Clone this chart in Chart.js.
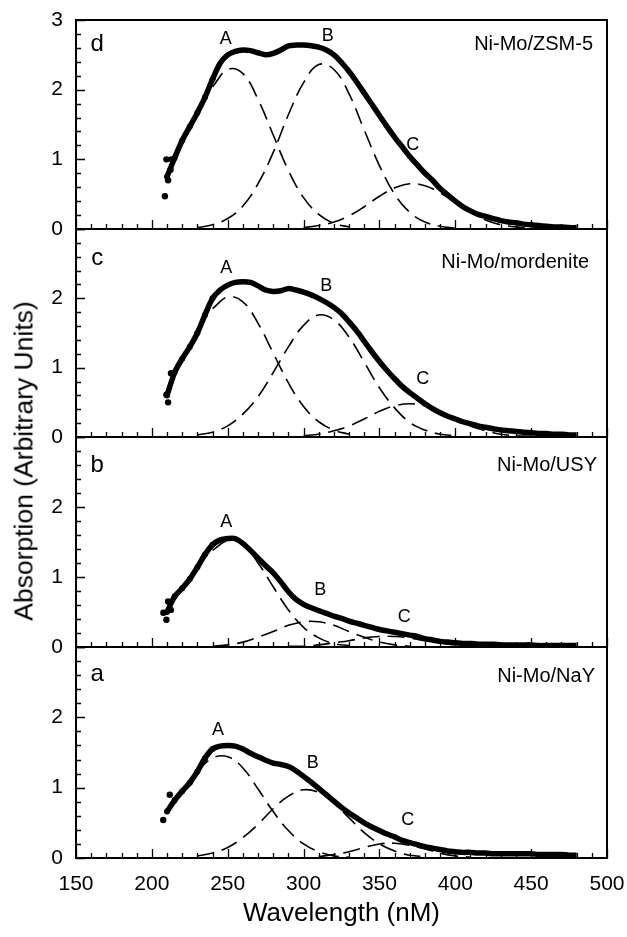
<!DOCTYPE html>
<html><head><meta charset="utf-8">
<script src="https://cdn.jsdelivr.net/npm/chart.js@4.4.1/dist/chart.umd.min.js"></script>
<style>
html,body{margin:0;padding:0;background:#fff;}
#wrap{position:relative;width:627px;height:937px;overflow:hidden;background:#fff;}
.pane{position:absolute;left:0;width:627px;}
.pane canvas{display:block;}
#ytitle{position:absolute;left:24px;top:461px;transform:translate(-50%,-50%) rotate(-90deg);font:26.5px 'Liberation Sans',Arial,sans-serif;white-space:nowrap;color:#000;}
</style></head><body>
<div id="wrap">
<div class="pane" style="top:0px;height:249px"><canvas id="cd" width="627" height="249"></canvas></div>
<div class="pane" style="top:209px;height:248px"><canvas id="cc" width="627" height="248"></canvas></div>
<div class="pane" style="top:417px;height:250px"><canvas id="cb" width="627" height="250"></canvas></div>
<div class="pane" style="top:627px;height:310px"><canvas id="ca" width="627" height="310"></canvas></div>
<div id="ytitle">Absorption (Arbitrary Units)</div>
</div>
<script>
// ---------- data ----------
const wlTotal = [210,215,220,225,230,235,240,245,250,255,260,265,270,275,280,285,290,295,300,305,
  310,315,320,325,330,335,340,345,350,355,360,365,370,375,380,385,390,395,400,405,
  410,415,420,425,430,435,440,445,450,455,460,465,470,475,480];
const wlComp = [210,220,230,240,250,260,270,280,290,300,310,320,330,340,350,360,370,380,390,400,410,420,430,440,450];

// panel d : Ni-Mo/ZSM-5
const d_total = [0.75,1.02,1.27,1.47,1.67,1.89,2.15,2.38,2.50,2.55,2.57,2.56,2.53,2.50,2.52,2.57,2.63,2.64,2.64,2.63,
  2.61,2.57,2.50,2.39,2.26,2.11,1.95,1.79,1.63,1.47,1.32,1.18,1.04,0.92,0.80,0.70,0.58,0.49,0.40,0.32,
  0.26,0.21,0.18,0.15,0.12,0.10,0.09,0.07,0.06,0.05,0.04,0.03,0.03,0.02,0.02];
const d_A = [null,null,null,2.04,2.29,2.23,1.86,1.35,0.84,0.45,0.21,0.08,0.03,null,null,null,null,null,null,null,null,null,null,null,null];
const d_B = [null,null,0.02,0.06,0.15,0.33,0.65,1.10,1.64,2.10,2.36,2.29,1.94,1.42,0.91,0.50,0.24,0.10,0.04,0.01,null,null,null,null,null];
const d_C = [null,null,null,null,null,null,null,null,null,0.02,0.05,0.10,0.19,0.32,0.47,0.59,0.65,0.62,0.52,0.38,0.24,0.13,0.06,0.03,0.01];
const d_dotWl = [208.6,209.6,210.7,212.3,213.0];
const d_dotAbs = [0.47,1.00,0.70,0.85,1.00];

// panel c : Ni-Mo/mordenite
const c_total = [0.60,0.93,1.13,1.30,1.50,1.76,2.00,2.12,2.19,2.23,2.24,2.23,2.18,2.12,2.10,2.11,2.14,2.12,2.09,2.05,
  2.00,1.94,1.87,1.78,1.66,1.53,1.38,1.23,1.09,0.96,0.84,0.73,0.64,0.56,0.48,0.41,0.35,0.30,0.26,0.22,
  0.19,0.16,0.14,0.12,0.10,0.09,0.08,0.07,0.06,0.05,0.05,0.04,0.04,0.03,0.03];
const c_A = [null,null,null,1.85,2.02,1.95,1.64,1.21,0.78,0.44,0.22,0.10,0.04,null,null,null,null,null,null,null,null,null,null,null,null];
const c_B = [null,null,0.03,0.07,0.16,0.33,0.58,0.93,1.30,1.61,1.76,1.69,1.44,1.08,0.71,0.42,0.21,0.10,0.04,0.02,null,null,null,null,null];
const c_C = [null,null,null,null,null,null,null,null,null,0.02,0.04,0.09,0.16,0.26,0.37,0.45,0.48,0.45,0.37,0.26,0.16,0.09,0.04,0.02,0.01];
const c_dotWl = [209.6,210.7,212.6];
const c_dotAbs = [0.61,0.50,0.92];

// panel b : Ni-Mo/USY
const b_total = [0.50,0.72,0.84,0.97,1.14,1.32,1.46,1.53,1.55,1.55,1.48,1.38,1.27,1.16,1.06,0.93,0.79,0.68,0.61,0.56,
  0.52,0.48,0.44,0.41,0.37,0.34,0.31,0.28,0.25,0.23,0.21,0.19,0.17,0.15,0.12,0.10,0.08,0.07,0.06,0.05,
  0.05,0.04,0.04,0.04,0.03,0.03,0.03,0.03,0.03,0.02,0.02,0.02,0.02,0.02,0.02];
const b_A = [null,null,null,1.38,1.52,1.46,1.20,0.86,0.53,0.28,0.13,0.05,0.02,null,null,null,null,null,null,null,null,null,null,null,null];
const b_B = [null,null,null,0.01,0.03,0.07,0.14,0.22,0.31,0.36,0.36,0.31,0.22,0.14,0.07,0.03,0.01,null,null,null,null,null,null,null,null];
const b_C = [null,null,null,null,null,null,null,null,0.01,0.01,0.03,0.06,0.09,0.13,0.15,0.15,0.13,0.09,0.06,0.03,0.01,0.01,null,null,null];
const b_dotWl = [207.6,209.6,210.7,212.5];
const b_dotAbs = [0.49,0.39,0.65,0.53];

// panel a : Ni-Mo/NaY
const a_total = [0.66,0.82,0.95,1.07,1.23,1.42,1.55,1.59,1.60,1.59,1.55,1.49,1.44,1.39,1.35,1.33,1.30,1.24,1.16,1.08,
  0.99,0.90,0.81,0.72,0.64,0.57,0.50,0.44,0.39,0.34,0.30,0.25,0.22,0.19,0.16,0.14,0.12,0.10,0.09,0.08,
  0.08,0.07,0.07,0.06,0.06,0.06,0.06,0.06,0.06,0.05,0.05,0.05,0.05,0.04,0.04];
const a_A = [null,0.92,1.22,1.42,1.44,1.28,0.98,0.66,0.39,0.20,0.09,0.03,0.01,null,null,null,null,null,null,null,null,null,null,null,null];
const a_B = [null,null,0.03,0.07,0.15,0.29,0.48,0.70,0.88,0.97,0.93,0.78,0.57,0.36,0.20,0.10,0.04,0.02,null,null,null,null,null,null,null];
const a_C = [null,null,null,null,null,null,null,null,null,null,0.02,0.05,0.09,0.15,0.20,0.21,0.18,0.13,0.07,0.03,0.01,null,null,null,null];
const a_dotWl = [207.5,211.8];
const a_dotAbs = [0.54,0.90];

// text labels
const peakNames = ['A','B','C'];
const d_peakWl = [248.7,316,372],   d_peakAbs = [2.72,2.77,1.20];
const c_peakWl = [249,315,378.5],   c_peakAbs = [2.43,2.18,0.84];
const b_peakWl = [249,311,366.4],   b_peakAbs = [1.79,0.81,0.43];
const a_peakWl = [243.6,306,368.6], a_peakAbs = [1.82,1.35,0.54];
const panelLetters = ['d','c','b','a'];
const panelNames = ['Ni-Mo/ZSM-5','Ni-Mo/mordenite','Ni-Mo/USY','Ni-Mo/NaY'];
const xTickLabels = [150,200,250,300,350,400,450,500];
const yTickLabels = [0,1,2,3];

// ---------- drawing ----------
const FONT = "'Liberation Sans', Arial, Helvetica, sans-serif";
Chart.defaults.font.family = FONT;
Chart.defaults.color = '#000';

function pts(xs, ys){ return xs.map((x,i)=>({x:x, y:ys[i]})); }

const deco = {
  id: 'deco',
  afterDraw(chart, args, o) {
    const {ctx, chartArea: ca} = chart;
    const x = chart.scales.x, y = chart.scales.y;
    ctx.save();
    ctx.strokeStyle = '#000'; ctx.fillStyle = '#000';
    ctx.lineWidth = 1.3;
    ctx.beginPath();
    for (let v = 150; v <= 500; v += 10) {
      const px = Math.round(x.getPixelForValue(v)) + 0.5;
      const len = (v % 50 === 0) ? 9 : 5;
      ctx.moveTo(px, ca.bottom); ctx.lineTo(px, ca.bottom - len);
    }
    for (let i = 0; i <= 15; i++) {
      const py = Math.round(y.getPixelForValue(i * 0.2)) + 0.5;
      const len = (i % 5 === 0) ? 9 : 5;
      ctx.moveTo(ca.left, py); ctx.lineTo(ca.left + len, py);
    }
    ctx.stroke();
    ctx.lineWidth = 2;
    ctx.strokeRect(ca.left, ca.top, ca.right - ca.left, ca.bottom - ca.top);
    ctx.textBaseline = 'middle';
    ctx.textAlign = 'center';
    ctx.font = '18px ' + FONT;
    o.peakWl.forEach((w, i) => {
      ctx.fillText(peakNames[i], x.getPixelForValue(w), y.getPixelForValue(o.peakAbs[i]));
    });
    ctx.font = '24px ' + FONT;
    ctx.fillText(o.letter, x.getPixelForValue(164), y.getPixelForValue(o.letterAbs));
    ctx.font = '20px ' + FONT;
    ctx.textAlign = 'right';
    ctx.fillText(o.name, x.getPixelForValue(o.nameWl), y.getPixelForValue(o.nameAbs));
    ctx.restore();
  }
};

function makePanel(id, idx, total, A, B, C, dotWl, dotAbs, peakWl, peakAbs, letterAbs, nameWl, nameAbs, bottom) {
  const comp = (arr) => ({
    data: pts(wlComp, arr), borderColor: '#000', borderWidth: 1.6, borderDash: [17, 8],
    pointRadius: 0, tension: 0.4, fill: false, spanGaps: false
  });
  new Chart(document.getElementById(id), {
    type: 'line',
    data: {
      datasets: [
        comp(A), comp(B), comp(C),
        { data: pts(wlTotal, total), borderColor: '#000', borderWidth: 5.5, tension: 0.3, fill: false,
          pointRadius: c => (c.raw && c.raw.x < 245) ? 3 : 0, pointBackgroundColor: '#000', pointBorderWidth: 0 },
        { data: pts(dotWl, dotAbs), showLine: false, pointRadius: 3.2, pointBackgroundColor: '#000', pointBorderWidth: 0 }
      ]
    },
    options: {
      responsive: false, animation: false, events: [],
      layout: { autoPadding: false, padding: { left: 0, right: 20, top: 20, bottom: bottom ? 0 : 20 } },
      plugins: {
        legend: { display: false }, tooltip: { enabled: false },
        deco: { peakWl, peakAbs, letter: panelLetters[idx], letterAbs, name: panelNames[idx], nameWl, nameAbs }
      },
      scales: {
        x: {
          type: 'linear', min: 150, max: 500, display: bottom,
          grid: { display: false, drawTicks: false }, border: { display: false },
          ticks: { stepSize: 50, font: { size: 21 }, color: '#000', padding: 14,
                   callback: v => xTickLabels.includes(v) ? String(v) : '' },
          title: { display: bottom, text: 'Wavelength (nM)', font: { size: 26 }, color: '#000', padding: { top: 0, bottom: 8 } },
          afterFit: s => { if (bottom) s.height = 79; s.paddingLeft = 0; s.paddingRight = 0; }
        },
        y: {
          type: 'linear', min: 0, max: 3,
          grid: { display: false, drawTicks: false }, border: { display: false },
          ticks: { stepSize: 1, font: { size: 21 }, color: '#000', padding: 13,
                   callback: v => (yTickLabels.includes(v) && (v < 3 || idx === 0)) ? String(v) : '' },
          afterFit: s => { s.width = 76; s.paddingTop = 0; s.paddingBottom = 0; }
        }
      }
    },
    plugins: [deco]
  });
}

makePanel('cd', 0, d_total, d_A, d_B, d_C, d_dotWl, d_dotAbs, d_peakWl, d_peakAbs, 2.65, 490.8, 2.65, false);
makePanel('cc', 1, c_total, c_A, c_B, c_C, c_dotWl, c_dotAbs, c_peakWl, c_peakAbs, 2.57, 488.2, 2.52, false);
makePanel('cb', 2, b_total, b_A, b_B, b_C, b_dotWl, b_dotAbs, b_peakWl, b_peakAbs, 2.60, 493.4, 2.60, false);
makePanel('ca', 3, a_total, a_A, a_B, a_C, a_dotWl, a_dotAbs, a_peakWl, a_peakAbs, 2.61, 492.1, 2.58, true);
</script>
</body></html>
